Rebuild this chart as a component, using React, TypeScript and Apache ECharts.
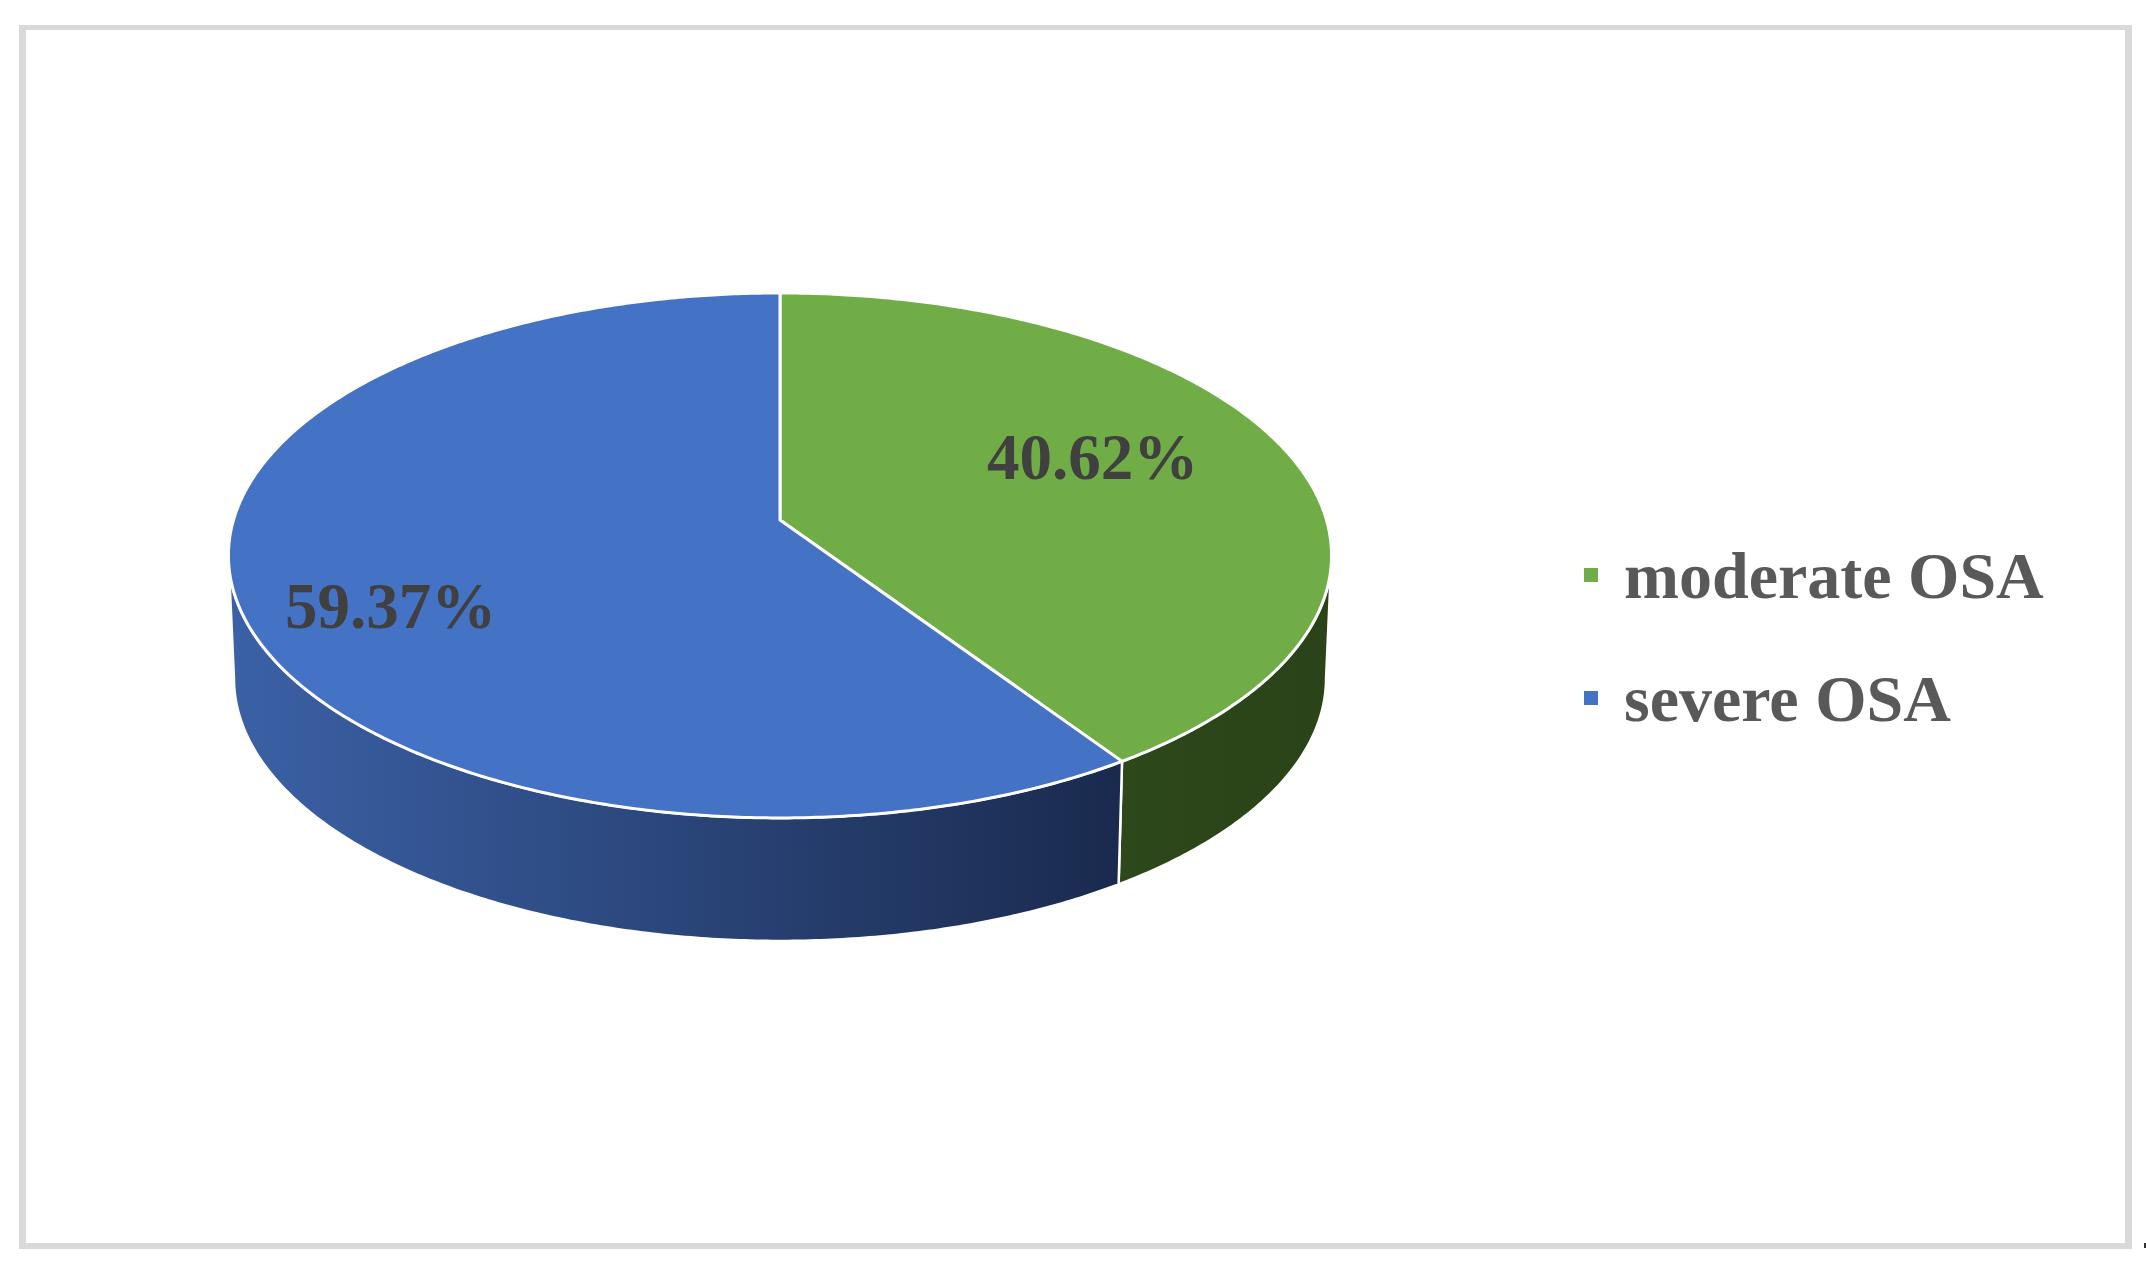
import React, { useEffect, useRef } from "react";
import * as echarts from "echarts";

// ---- data ----
const CATEGORIES: string[] = ["moderate OSA", "severe OSA"];
const VALUES: number[] = [40.62, 59.37];
const PCT_LABELS: string[] = ["40.62%", "59.37%"];

// ---- styles / layout ----
const TOP_COLORS = ["#70AD47", "#4472C4"];
const WALL_GRADIENTS = [
  ["#2D481B", "#2A4318"],
  ["#3B61A6", "#1A2A4E"],
];
const PIE = { cx: 780, cy: 520, a: 546.5, b: 257.7, k: 0.135, depth: 123, bottomScale: 0.99 };
const LABEL_R = 0.62;
const LABEL_NUDGE = [
  [-4, -18],
  [-57, 38],
];
const FONT = '"Liberation Serif", "Times New Roman", serif';

function project(theta: number, r: number, dy = 0, sx = 1): number[] {
  const u = r * Math.sin(theta);
  const v = -r * Math.cos(theta);
  const d = 1 - PIE.k * v;
  return [PIE.cx + (PIE.a * sx * u) / d, PIE.cy + dy + (PIE.b * v) / d];
}

function renderItem(params: any, api: any) {
  const i = params.seriesIndex;
  const val = api.value(0);
  const total = VALUES.reduce((s, v) => s + v, 0);
  let before = 0;
  for (let j = 0; j < i; j++) before += VALUES[j];
  const a0 = (2 * Math.PI * before) / total;
  const a1 = (2 * Math.PI * (before + val)) / total;
  const step = Math.PI / 360;

  const children: any[] = [];

  // front wall
  const tL = Math.acos(-PIE.k);
  const tR = 2 * Math.PI - tL;
  const w0 = Math.max(a0, tL);
  const w1 = Math.min(a1, tR);
  if (w1 > w0) {
    const n = Math.max(4, Math.ceil((w1 - w0) / step));
    const pts: number[][] = [];
    for (let s = 0; s <= n; s++) pts.push(project(w0 + ((w1 - w0) * s) / n, 1));
    for (let s = n; s >= 0; s--) pts.push(project(w0 + ((w1 - w0) * s) / n, 1, PIE.depth, PIE.bottomScale));
    let minX = Infinity, maxX = -Infinity;
    pts.forEach((p) => { minX = Math.min(minX, p[0]); maxX = Math.max(maxX, p[0]); });
    children.push({
      type: "polygon",
      z2: 1,
      shape: { points: pts },
      style: {
        fill: new echarts.graphic.LinearGradient(minX, 0, maxX, 0, [
          { offset: 0, color: WALL_GRADIENTS[i][0] },
          { offset: 1, color: WALL_GRADIENTS[i][1] },
        ], true),
        stroke: "#ffffff",
        lineWidth: 2.5,
        lineJoin: "round",
      },
    });
  }

  // top face
  const n = Math.max(8, Math.ceil((a1 - a0) / step));
  const top: number[][] = [project(0, 0)];
  for (let s = 0; s <= n; s++) top.push(project(a0 + ((a1 - a0) * s) / n, 1));
  children.push({
    type: "polygon",
    z2: 5,
    shape: { points: top },
    style: { fill: TOP_COLORS[i], stroke: "#ffffff", lineWidth: 3, lineJoin: "round" },
  });

  // label
  const mid = (a0 + a1) / 2;
  const lp = project(mid, LABEL_R);
  children.push({
    type: "text",
    z2: 10,
    x: lp[0] + LABEL_NUDGE[i][0],
    y: lp[1] + LABEL_NUDGE[i][1],
    style: {
      text: PCT_LABELS[i],
      fill: "#404040",
      fontSize: 65,
      fontWeight: "bold",
      fontFamily: FONT,
      align: "center",
      verticalAlign: "middle",
    },
  });

  return { type: "group", children };
}

export default function App() {
  const ref = useRef<HTMLDivElement>(null);
  useEffect(() => {
    if (!ref.current) return;
    const chart = echarts.init(ref.current, undefined, { renderer: "svg" });
    const borderColor = "#D9D9D9";
    chart.setOption({
      animation: false,
      backgroundColor: "#ffffff",
      legend: {
        data: CATEGORIES,
        orient: "vertical",
        left: 1584,
        top: 542,
        padding: 0,
        icon: "rect",
        itemWidth: 14,
        itemHeight: 14,
        itemGap: 57,
        selectedMode: false,
        textStyle: {
          fontSize: 66,
          fontWeight: "bold",
          fontFamily: FONT,
          color: "#595959",
          lineHeight: 66,
          padding: [0, 0, 0, 21],
        },
      },
      graphic: [
        { type: "rect", shape: { x: 19, y: 25, width: 2113, height: 5 }, style: { fill: borderColor }, silent: true },
        { type: "rect", shape: { x: 19, y: 1243, width: 2113, height: 6 }, style: { fill: borderColor }, silent: true },
        { type: "rect", shape: { x: 19, y: 25, width: 7, height: 1224 }, style: { fill: borderColor }, silent: true },
        { type: "rect", shape: { x: 2125, y: 25, width: 7, height: 1224 }, style: { fill: borderColor }, silent: true },
        { type: "rect", shape: { x: 2144, y: 1243, width: 2, height: 5 }, style: { fill: "#333333" }, silent: true },
      ],
      series: CATEGORIES.map((name, i) => ({
        type: "custom",
        name,
        coordinateSystem: "none",
        data: [[VALUES[i]]],
        itemStyle: { color: TOP_COLORS[i] },
        renderItem,
      })),
    });
    return () => chart.dispose();
  }, []);
  return (
    <div
      ref={ref}
      style={{ position: "absolute", left: 0, top: 0, width: 2146, height: 1267 }}
    />
  );
}
